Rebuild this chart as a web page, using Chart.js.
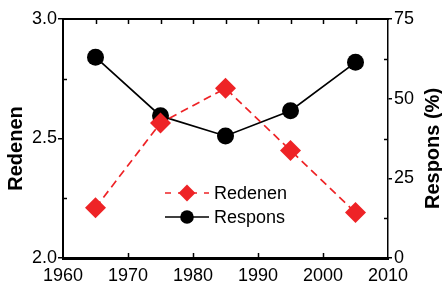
<!DOCTYPE html>
<html>
<head>
<meta charset="utf-8">
<script src="https://cdn.jsdelivr.net/npm/chart.js@4.4.1/dist/chart.umd.min.js"></script>
<style>
html,body{margin:0;padding:0;background:#fff;}
#wrap{width:442px;height:282px;}
</style>
</head>
<body>
<div id="wrap"><canvas id="c" width="442" height="282"></canvas></div>
<script>
const years = [1965, 1975, 1985, 1995, 2005];
const redenen = [2.21, 2.565, 2.71, 2.45, 2.19];
const respons = [63.0, 44.6, 38.3, 46.2, 61.4];
const seriesNames = ['Redenen', 'Respons'];
const axisTitles = ['Redenen', 'Respons (%)'];
const xTickValues = [1960, 1970, 1980, 1990, 2000, 2010];
const leftTickValues = [2.0, 2.5, 3.0];
const rightTickValues = [0, 25, 50, 75];

const RED = '#ee2326';
const FONT = "'Liberation Sans', Arial, sans-serif";

const frameTicks = {
  id: 'frameTicks',
  afterDatasetsDraw(chart) {
    const {ctx, chartArea: a, scales} = chart;
    ctx.save();
    ctx.strokeStyle = '#000';
    ctx.lineWidth = 2;
    ctx.beginPath(); ctx.moveTo(a.left - 1, a.top); ctx.lineTo(a.right + 1, a.top); ctx.stroke();
    ctx.lineWidth = 1.5;
    const xs = scales.x;
    for (let v = xs.min; v <= xs.max; v += 5) {
      const px = Math.round(xs.getPixelForValue(v)) + 0.5;
      if (px <= a.left + 1 || px >= a.right - 1) continue;
      ctx.beginPath(); ctx.moveTo(px, a.top); ctx.lineTo(px, a.top + 5); ctx.stroke();
      if ((v - xs.min) % 10 === 0) {
        ctx.beginPath(); ctx.moveTo(px, a.bottom); ctx.lineTo(px, a.bottom - 5); ctx.stroke();
      }
    }
    const y = scales.y, y2 = scales.y2;
    for (let i = 0; i < leftTickValues.length - 1; i++) {
      const m = (leftTickValues[i] + leftTickValues[i + 1]) / 2;
      const py = Math.round(y.getPixelForValue(m)) + 0.5;
      ctx.beginPath(); ctx.moveTo(a.left, py); ctx.lineTo(a.left + 4, py); ctx.stroke();
    }
    for (let i = 0; i < rightTickValues.length - 1; i++) {
      const m = (rightTickValues[i] + rightTickValues[i + 1]) / 2;
      const py = Math.round(y2.getPixelForValue(m)) + 0.5;
      ctx.beginPath(); ctx.moveTo(a.right, py); ctx.lineTo(a.right - 4, py); ctx.stroke();
    }
    const cy = (a.top + a.bottom) / 2 + 10;
    ctx.fillStyle = '#000';
    ctx.font = 'bold 20px ' + FONT;
    ctx.textAlign = 'center';
    ctx.textBaseline = 'middle';
    [[15.5, axisTitles[0]], [432, axisTitles[1]]].forEach(([tx, t]) => {
      ctx.save();
      ctx.translate(tx, cy);
      ctx.rotate(-Math.PI / 2);
      ctx.fillText(t, 0, 1);
      ctx.restore();
    });
    ctx.restore();
  }
};

const customLegend = {
  id: 'customLegend',
  afterDatasetsDraw(chart) {
    const {ctx, chartArea: a} = chart;
    const x0 = a.left + 102, x1 = a.left + 146, tx = a.left + 151;
    const rows = [a.top + 174, a.top + 198];
    ctx.save();
    chart.data.datasets.forEach((ds, i) => {
      const yy = rows[i];
      ctx.strokeStyle = ds.borderColor;
      ctx.lineWidth = ds.borderWidth;
      ctx.setLineDash(ds.borderDash ? [6, 7] : []);
      ctx.beginPath(); ctx.moveTo(x0, yy); ctx.lineTo(x1, yy); ctx.stroke();
      ctx.setLineDash([]);
      const cx = (x0 + x1) / 2;
      ctx.fillStyle = ds.pointBackgroundColor;
      ctx.beginPath();
      const r = ds.pointRadius * 0.8;
      if (ds.pointStyle === 'rectRot') {
        ctx.moveTo(cx, yy - r); ctx.lineTo(cx + r, yy); ctx.lineTo(cx, yy + r); ctx.lineTo(cx - r, yy);
        ctx.closePath();
      } else {
        ctx.arc(cx, yy, r, 0, Math.PI * 2);
      }
      ctx.fill();
      ctx.fillStyle = '#000';
      ctx.font = '18px ' + FONT;
      ctx.textBaseline = 'middle';
      ctx.textAlign = 'left';
      ctx.fillText(ds.label, tx, yy + 1);
    });
    ctx.restore();
  }
};

new Chart(document.getElementById('c'), {
  type: 'line',
  data: {
    datasets: [
      {
        label: seriesNames[0],
        data: years.map((x, i) => ({x, y: redenen[i]})),
        yAxisID: 'y',
        borderColor: RED,
        backgroundColor: RED,
        pointBackgroundColor: RED,
        pointBorderColor: RED,
        borderWidth: 1.7,
        borderDash: [8, 5],
        pointStyle: 'rectRot',
        pointRadius: 10.5,
        pointBorderWidth: 0,
        tension: 0
      },
      {
        label: seriesNames[1],
        data: years.map((x, i) => ({x, y: respons[i]})),
        yAxisID: 'y2',
        borderColor: '#000',
        backgroundColor: '#000',
        pointBackgroundColor: '#000',
        pointBorderColor: '#000',
        borderWidth: 1.7,
        pointStyle: 'circle',
        pointRadius: 8.5,
        pointBorderWidth: 0,
        tension: 0
      }
    ]
  },
  options: {
    responsive: false,
    animation: false,
    devicePixelRatio: 1,
    layout: {padding: {top: 19, left: 0, right: 0, bottom: 0}},
    plugins: {legend: {display: false}, tooltip: {enabled: false}},
    scales: {
      x: {
        type: 'linear', min: 1960, max: 2010,
        afterBuildTicks: s => { s.ticks = xTickValues.map(v => ({value: v})); },
        afterFit: s => { s.height = 24; },
        ticks: {color: '#000', font: {family: FONT, size: 18}, padding: 7, maxRotation: 0, autoSkip: false, callback: v => String(v)},
        grid: {drawOnChartArea: false, drawTicks: false},
        border: {color: '#000', width: 3}
      },
      y: {
        position: 'left', min: 2, max: 3,
        afterBuildTicks: s => { s.ticks = leftTickValues.map(v => ({value: v})); },
        afterFit: s => { s.width = 63; },
        ticks: {color: '#000', font: {family: FONT, size: 18}, padding: 1, callback: v => Number(v).toFixed(1)},
        grid: {drawOnChartArea: false, drawTicks: true, tickLength: 5, color: '#000', lineWidth: 1.5},
        border: {color: '#000', width: 2}
      },
      y2: {
        position: 'right', min: 0, max: 75,
        afterBuildTicks: s => { s.ticks = rightTickValues.map(v => ({value: v})); },
        afterFit: s => { s.width = 54; },
        ticks: {color: '#000', font: {family: FONT, size: 18}, padding: 2, callback: v => String(v)},
        grid: {drawOnChartArea: false, drawTicks: true, tickLength: 4, color: '#000', lineWidth: 1.5},
        border: {color: '#000', width: 1.5}
      }
    }
  },
  plugins: [frameTicks, customLegend]
});
</script>
</body>
</html>
